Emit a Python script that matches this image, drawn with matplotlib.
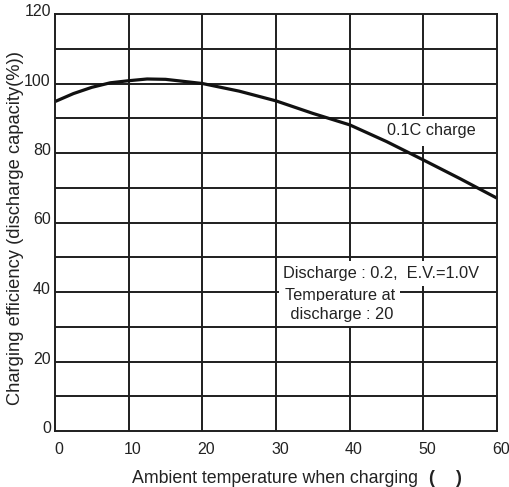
import matplotlib
matplotlib.use("Agg")
import matplotlib.pyplot as plt
import matplotlib.transforms as mtransforms

plt.rcParams['font.family'] = ['Liberation Sans', 'DejaVu Sans']

# data
temp = [0, 2.5, 5, 7.5, 10, 12.5, 15, 20, 25, 30, 35, 40, 45, 50, 55, 60]
efficiency = [94.8, 97.1, 98.9, 100.2, 100.8, 101.3, 101.2, 100.0, 97.8, 95.0,
              91.4, 88.1, 83.3, 78.0, 72.6, 67.0]
x_ticks = [0, 10, 20, 30, 40, 50, 60]
y_ticks = [0, 20, 40, 60, 80, 100, 120]
x_grid = [10, 20, 30, 40, 50]
y_grid = [10, 20, 30, 40, 50, 60, 70, 80, 90, 100, 110]
curve_label = "0.1C charge"
cond_lines = ["Discharge : 0.2,  E.V.=1.0V", "Temperature at", " discharge : 20"]
x_label = "Ambient temperature when charging"
y_label = "Charging efficiency (discharge capacity(%))"

W, H = 510, 487
fig = plt.figure(figsize=(W/100, H/100), dpi=100)
ax = fig.add_axes([55/W, 1-431/H, 442/W, 417/H])
ax.set_xlim(0, 60)
ax.set_ylim(0, 120)

gc = '#1e1e1e'
tc = '#222222'
glw = 1.4
for gx in x_grid:
    ax.axvline(gx, color=gc, lw=glw, zorder=1)
for gy in y_grid:
    ax.axhline(gy, color=gc, lw=glw, zorder=1 if gy == 40 else 4)

for s in ax.spines.values():
    s.set_color(gc)
    s.set_linewidth(glw)
    s.set_zorder(6)

ax.plot(temp, efficiency, color='#111111', lw=2.3, zorder=5,
        solid_capstyle='butt')

ax.text(45.1, 86.4, curve_label, fontsize=11.7, ha='left', va='center',
        color=tc, zorder=3,
        bbox=dict(boxstyle='square,pad=0.45', fc='white', ec='none'))

cond_pos = [(31.0, 45.3), (31.2, 39.0), (31.4, 33.6)]
for (cx, cy), t in zip(cond_pos, cond_lines):
    ax.text(cx, cy, t, fontsize=11.8, ha='left', va='center', color=tc,
            zorder=3,
            bbox=dict(boxstyle='square,pad=0.33', fc='white', ec='none'))

ax.set_xticks(x_ticks)
ax.set_yticks(y_ticks)
ax.set_xticklabels([str(v) for v in x_ticks])
ax.set_yticklabels([str(v) for v in y_ticks])
ax.tick_params(length=0, labelsize=11.5, labelcolor=tc, pad=8)
ax.tick_params(axis='y', pad=3)

dx = mtransforms.ScaledTranslation(4/100, 0, fig.dpi_scale_trans)
for lbl in ax.get_xticklabels():
    lbl.set_transform(lbl.get_transform() + dx)
dy = mtransforms.ScaledTranslation(0, 4/100, fig.dpi_scale_trans)
for lbl in ax.get_yticklabels():
    lbl.set_transform(lbl.get_transform() + dy)

# axis titles
fig.text(132/W, 1-483/H, x_label, fontsize=12.8, color=tc,
         ha='left', va='baseline')
fig.text(428/W, 1-483/H, "(", fontsize=13, fontweight='bold', color=tc,
         ha='left', va='baseline')
fig.text(455/W, 1-483/H, ")", fontsize=13, fontweight='bold', color=tc,
         ha='left', va='baseline')
fig.text(20/W, 1-228/H, y_label, fontsize=13.2, color=tc, rotation=90,
         rotation_mode='anchor', ha='center', va='baseline')

fig.savefig("out.png", dpi=100)
